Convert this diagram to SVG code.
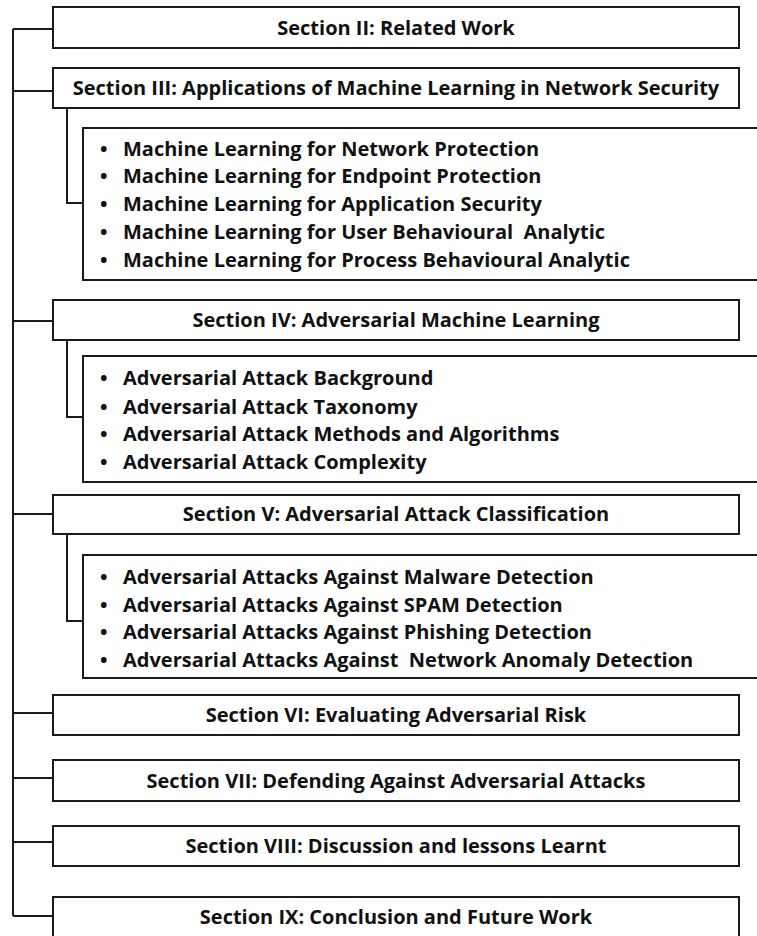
<svg xmlns="http://www.w3.org/2000/svg" width="757" height="936" viewBox="0 0 757 936">
<style>
.box{fill:#fff;stroke:#1a1a1a;stroke-width:2}
.con{fill:none;stroke:#1a1a1a;stroke-width:2}
.t{font-family:"Open Sans","Liberation Sans",sans-serif;font-weight:700;font-size:20px;fill:#111;text-anchor:middle}
.l{font-family:"Open Sans","Liberation Sans",sans-serif;font-weight:700;font-size:20px;fill:#111}
.pre{white-space:pre}
</style>
<rect width="757" height="936" fill="#fff"/>
<g id="connectors">
<path class="con" d="M13 29V916M13 29H53M13 91H53M13 321H53M13 514H53M13 713H53M13 778H53M13 842H53M13 916H53"/>
<path class="con" d="M67 108V203H83M67 340V417H83M67 534V621H83"/>
</g>
<g id="s2"><rect class="box" x="53" y="7" width="686" height="41"/><text class="t" x="396" y="35">Section II: Related Work</text></g>
<g id="s3"><rect class="box" x="53" y="68" width="686" height="40"/><text class="t" x="396" y="95">Section III: Applications of Machine Learning in Network Security</text></g>
<g id="s3list"><rect class="box" x="83" y="128" width="690" height="152"/>
<text class="l"><tspan x="100" y="156">•</tspan><tspan x="123" y="156">Machine Learning for Network Protection</tspan>
<tspan x="100" y="183">•</tspan><tspan x="123" y="183">Machine Learning for Endpoint Protection</tspan>
<tspan x="100" y="211">•</tspan><tspan x="123" y="211">Machine Learning for Application Security</tspan>
<tspan x="100" y="239">•</tspan><tspan x="123" y="239" class="pre">Machine Learning for User Behavioural  Analytic</tspan>
<tspan x="100" y="267">•</tspan><tspan x="123" y="267">Machine Learning for Process Behavioural Analytic</tspan></text></g>
<g id="s4"><rect class="box" x="53" y="300" width="686" height="40"/><text class="t" x="396" y="327">Section IV: Adversarial Machine Learning</text></g>
<g id="s4list"><rect class="box" x="83" y="356" width="690" height="126"/>
<text class="l"><tspan x="100" y="385">•</tspan><tspan x="123" y="385">Adversarial Attack Background</tspan>
<tspan x="100" y="414">•</tspan><tspan x="123" y="414">Adversarial Attack Taxonomy</tspan>
<tspan x="100" y="441">•</tspan><tspan x="123" y="441">Adversarial Attack Methods and Algorithms</tspan>
<tspan x="100" y="469">•</tspan><tspan x="123" y="469">Adversarial Attack Complexity</tspan></text></g>
<g id="s5"><rect class="box" x="53" y="495" width="686" height="39"/><text class="t" x="396" y="521">Section V: Adversarial Attack Classification</text></g>
<g id="s5list"><rect class="box" x="83" y="555" width="690" height="123"/>
<text class="l"><tspan x="100" y="584">•</tspan><tspan x="123" y="584">Adversarial Attacks Against Malware Detection</tspan>
<tspan x="100" y="612">•</tspan><tspan x="123" y="612">Adversarial Attacks Against SPAM Detection</tspan>
<tspan x="100" y="639">•</tspan><tspan x="123" y="639">Adversarial Attacks Against Phishing Detection</tspan>
<tspan x="100" y="667">•</tspan><tspan x="123" y="667" class="pre">Adversarial Attacks Against  Network Anomaly Detection</tspan></text></g>
<g id="s6"><rect class="box" x="53" y="695" width="686" height="40"/><text class="t" x="396" y="722">Section VI: Evaluating Adversarial Risk</text></g>
<g id="s7"><rect class="box" x="53" y="760" width="686" height="41"/><text class="t" x="396" y="788">Section VII: Defending Against Adversarial Attacks</text></g>
<g id="s8"><rect class="box" x="53" y="826" width="686" height="40"/><text class="t" x="396" y="853">Section VIII: Discussion and lessons Learnt</text></g>
<g id="s9"><rect class="box" x="53" y="897" width="686" height="60"/><text class="t" x="396" y="924">Section IX: Conclusion and Future Work</text></g>
</svg>
